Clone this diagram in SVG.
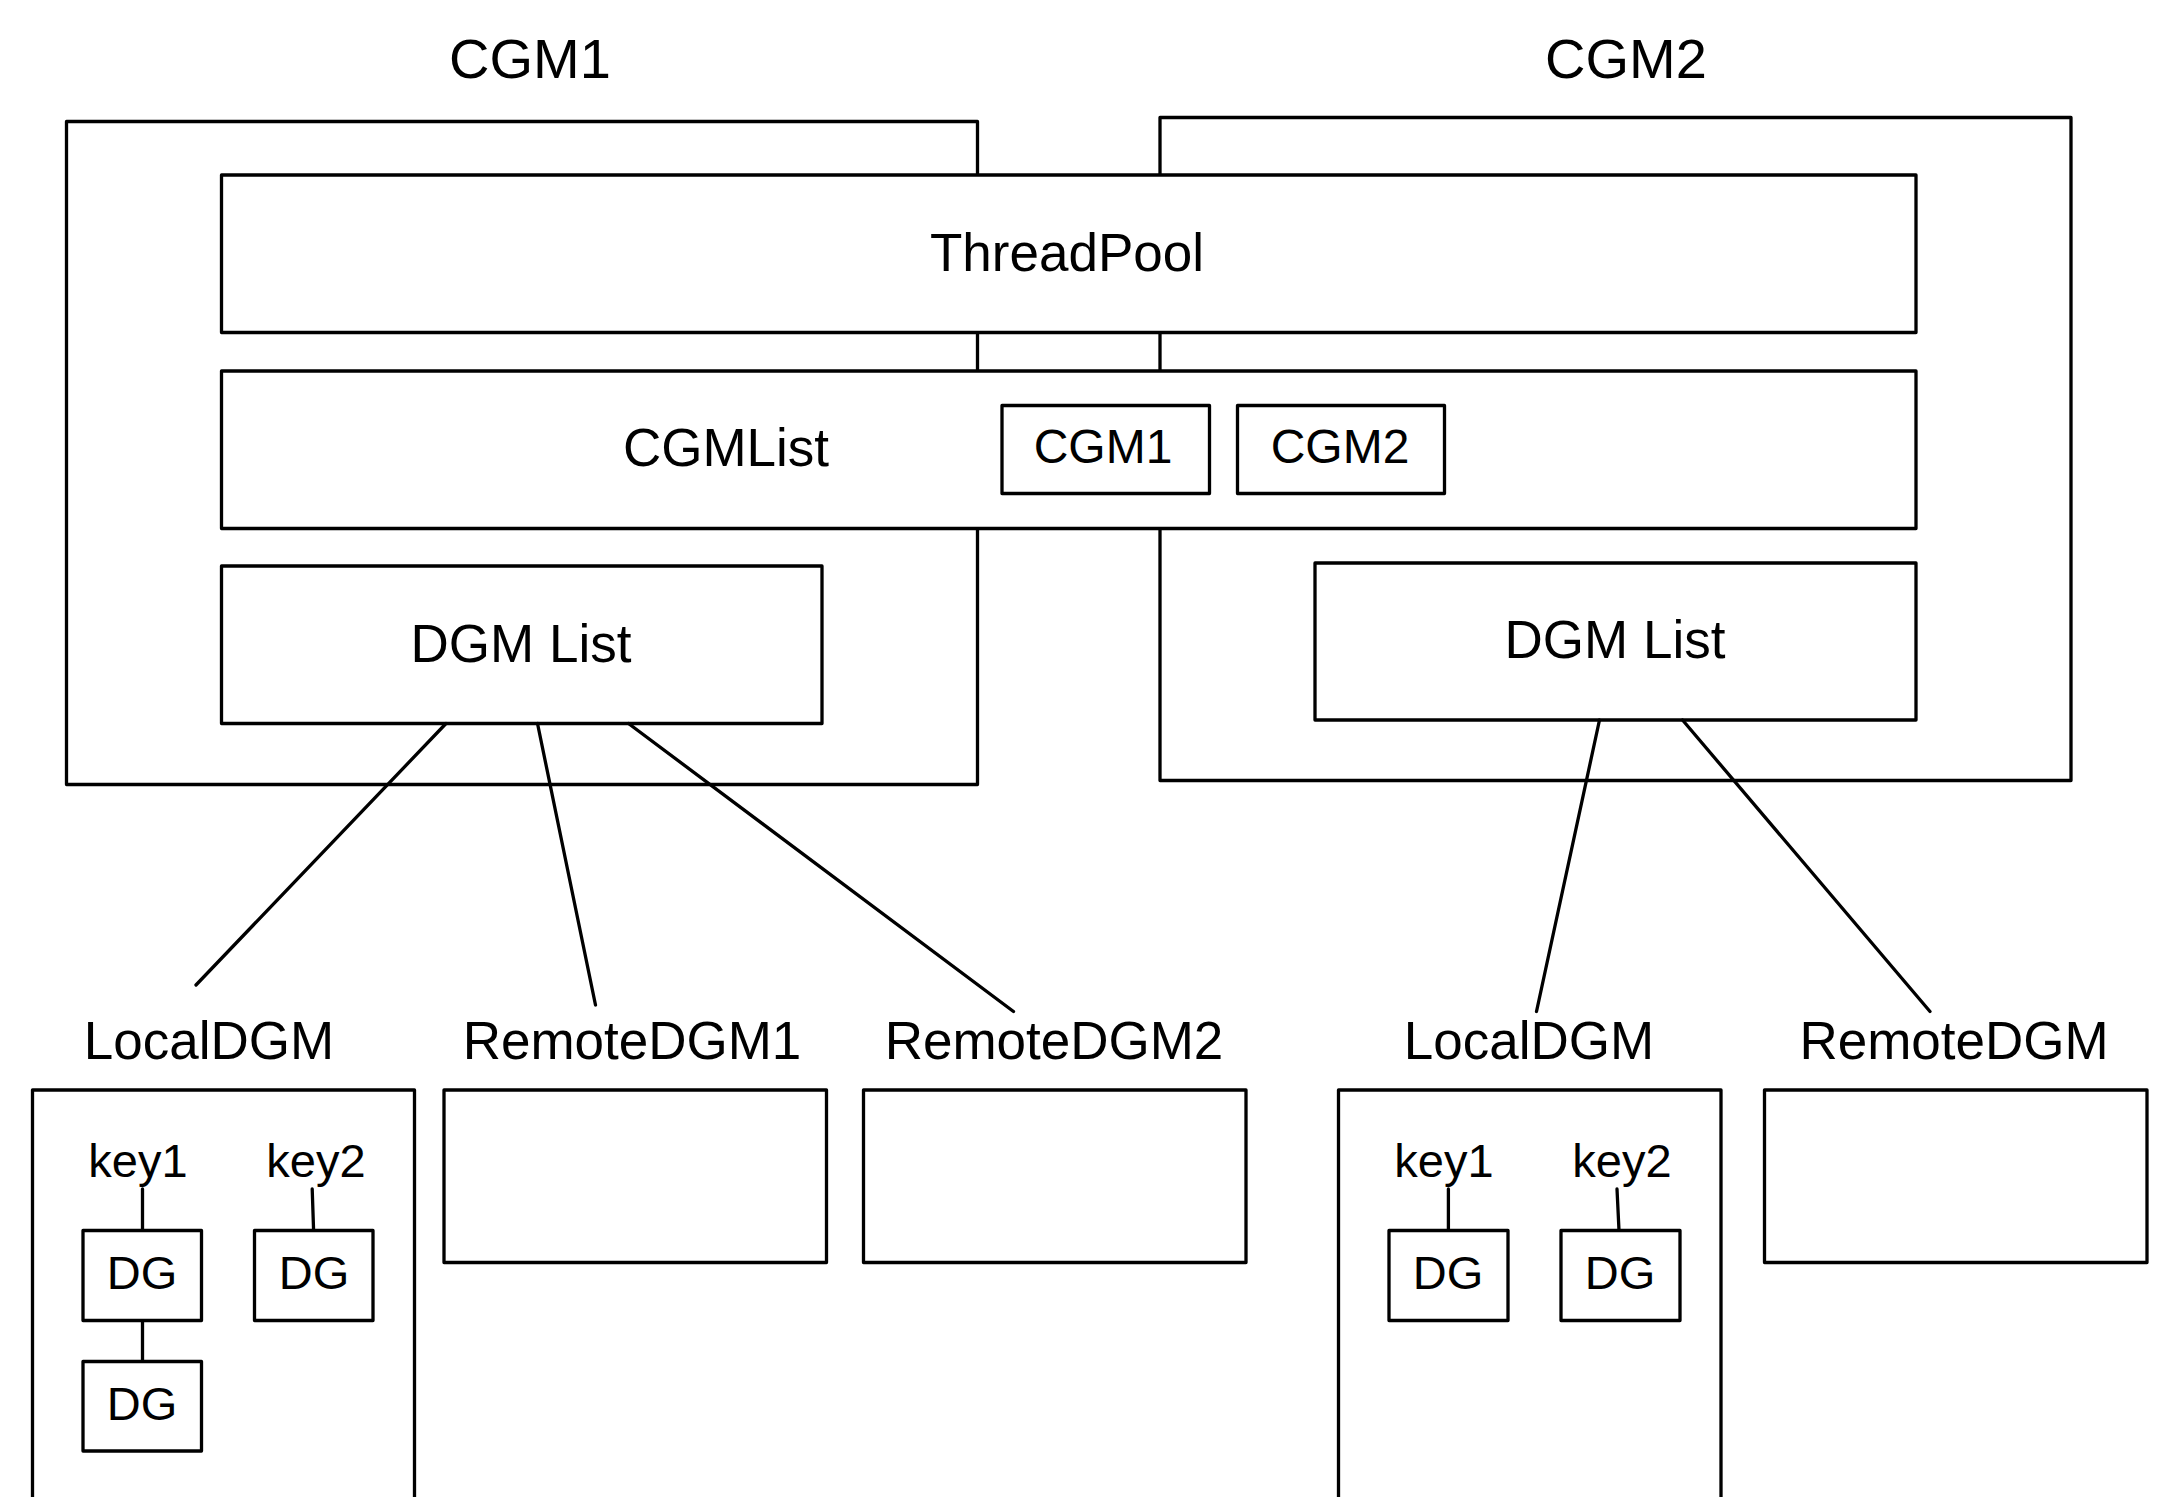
<svg xmlns="http://www.w3.org/2000/svg" width="2171" height="1497" viewBox="0 0 2171 1497">
  <style>
    .box { fill: #ffffff; stroke: #000000; stroke-width: 3.3; stroke-linejoin: round; }
    .frame { fill: none; stroke: #000000; stroke-width: 3.3; stroke-linejoin: round; }
    .link { fill: none; stroke: #000000; stroke-width: 3.3; stroke-linecap: round; }
    text { font-family: "Liberation Sans", Arial, Helvetica, sans-serif; fill: #000000; text-anchor: middle; }
    .title { font-size: 56px; }
    .lbl { font-size: 53px; }
    .small { font-size: 48px; }
    .key { font-size: 47px; }
  </style>
  <rect width="2171" height="1497" fill="#ffffff"/>

  <!-- process containers -->
  <g id="cgm1">
    <rect class="frame" x="66.5" y="121.5" width="911" height="663"/>
    <text class="title" x="530" y="78">CGM1</text>
  </g>
  <g id="cgm2">
    <rect class="frame" x="1160" y="117.5" width="911" height="663"/>
    <text class="title" x="1626" y="78">CGM2</text>
  </g>

  <!-- shared structures spanning both containers -->
  <g id="threadpool">
    <rect class="box" x="221.5" y="175" width="1694.5" height="157.5"/>
    <text class="lbl" x="1067" y="271">ThreadPool</text>
  </g>
  <g id="cgmlist">
    <rect class="box" x="221.5" y="371" width="1694.5" height="157.5"/>
    <text class="lbl" x="726" y="466">CGMList</text>
  </g>
  <g id="cgmlist-cgm1">
    <rect class="box" x="1002" y="405.5" width="207.5" height="88"/>
    <text class="small" x="1103" y="463">CGM1</text>
  </g>
  <g id="cgmlist-cgm2">
    <rect class="box" x="1237.5" y="405.5" width="207" height="88"/>
    <text class="small" x="1340" y="463">CGM2</text>
  </g>

  <g id="dgmlist1">
    <rect class="box" x="221.5" y="566" width="600.5" height="157.5"/>
    <text class="lbl" x="521" y="662">DGM List</text>
  </g>
  <g id="dgmlist2">
    <rect class="box" x="1315" y="563" width="601" height="157"/>
    <text class="lbl" x="1615" y="658">DGM List</text>
  </g>

  <!-- connectors -->
  <g id="connectors">
    <line class="link" x1="446" y1="723.5" x2="196" y2="985"/>
    <line class="link" x1="537.5" y1="723.5" x2="595.5" y2="1005"/>
    <line class="link" x1="628.5" y1="723.5" x2="1013.5" y2="1011.5"/>
    <line class="link" x1="1599.5" y1="720" x2="1536.5" y2="1011.5"/>
    <line class="link" x1="1682.5" y1="720" x2="1930" y2="1011.5"/>
    <line class="link" x1="142.5" y1="1189" x2="142.5" y2="1230.5"/>
    <line class="link" x1="142.5" y1="1320.5" x2="142.5" y2="1361.5"/>
    <line class="link" x1="312.2" y1="1189" x2="313.6" y2="1230.5"/>
    <line class="link" x1="1448.4" y1="1189" x2="1448.4" y2="1230.5"/>
    <line class="link" x1="1617" y1="1189" x2="1619" y2="1230.5"/>
  </g>

  <!-- CGM1 data group managers -->
  <g id="localdgm1">
    <text class="lbl" x="209" y="1059">LocalDGM</text>
    <rect class="frame" x="32.5" y="1090" width="382" height="430"/>
    <text class="key" x="138" y="1177">key1</text>
    <text class="key" x="316" y="1177">key2</text>
  </g>
  <g id="dg1-1">
    <rect class="box" x="83" y="1230.5" width="118.5" height="90"/>
    <text class="key" x="142" y="1289">DG</text>
  </g>
  <g id="dg1-2">
    <rect class="box" x="254.5" y="1230.5" width="118.5" height="90"/>
    <text class="key" x="314" y="1289">DG</text>
  </g>
  <g id="dg1-3">
    <rect class="box" x="83" y="1361.5" width="118.5" height="89.5"/>
    <text class="key" x="142" y="1420">DG</text>
  </g>
  <g id="remotedgm1">
    <text class="lbl" x="632" y="1059">RemoteDGM1</text>
    <rect class="frame" x="444" y="1090" width="382.5" height="172.5"/>
  </g>
  <g id="remotedgm2">
    <text class="lbl" x="1054" y="1059">RemoteDGM2</text>
    <rect class="frame" x="863.5" y="1090" width="382.5" height="172.5"/>
  </g>

  <!-- CGM2 data group managers -->
  <g id="localdgm2">
    <text class="lbl" x="1529" y="1059">LocalDGM</text>
    <rect class="frame" x="1338.5" y="1090" width="382.5" height="430"/>
    <text class="key" x="1444" y="1177">key1</text>
    <text class="key" x="1622" y="1177">key2</text>
  </g>
  <g id="dg2-1">
    <rect class="box" x="1389" y="1230.5" width="119" height="90"/>
    <text class="key" x="1448" y="1289">DG</text>
  </g>
  <g id="dg2-2">
    <rect class="box" x="1561" y="1230.5" width="119" height="90"/>
    <text class="key" x="1620" y="1289">DG</text>
  </g>
  <g id="remotedgm">
    <text class="lbl" x="1954" y="1059">RemoteDGM</text>
    <rect class="frame" x="1764.5" y="1090" width="382.5" height="172.5"/>
  </g>
</svg>
